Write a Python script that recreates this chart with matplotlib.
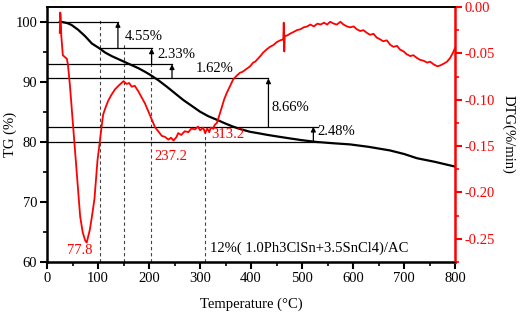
import matplotlib
matplotlib.use('Agg')
import matplotlib.pyplot as plt
from matplotlib.ticker import MultipleLocator

plt.rcParams['font.family'] = ['Liberation Serif', 'DejaVu Serif']
plt.rcParams['font.size'] = 10.5

# TG curve (mass %, left axis)
tg_temp = [25, 29, 40, 48, 61, 75, 88, 101, 114, 127, 140, 153, 166, 179, 192, 202, 218, 235,
           251, 267, 284, 300, 316, 333, 349, 365, 381, 398, 415, 431, 453, 476, 500, 529,
           560, 594, 630, 672, 700, 725, 760, 800]
tg_mass = [100.0, 100.0, 99.8, 99.5, 98.7, 97.6, 96.4, 95.7, 94.9, 94.3, 93.8, 93.3, 92.8,
           92.3, 91.7, 91.2, 90.3, 89.2, 88.1, 87.0, 86.0, 85.05, 84.3, 83.7, 83.1, 82.55,
           82.1, 81.7, 81.45, 81.2, 80.9, 80.6, 80.3, 80.0, 79.8, 79.6, 79.2, 78.6, 78.0,
           77.3, 76.7, 75.9]

# DTG curve (%/min, right axis)
dtg_temp = [25, 26, 27, 28, 31, 35, 39, 41, 45, 50, 55, 60, 65, 70, 75, 77.8, 84, 88, 93,
            99, 102, 105, 110, 115, 120, 126, 133, 140, 146, 150, 156, 161, 166, 172, 179, 186,
            192, 199, 205, 212, 218, 225, 231, 238, 243, 248, 254, 257, 263, 270, 277, 283, 290,
            296, 300, 306, 310, 314, 318, 321, 325, 329, 333, 341, 347, 352, 359, 365, 372, 378,
            383, 388, 393, 398, 404, 408, 413, 418, 424, 430, 437, 444, 450, 457, 463, 464,
            465, 466, 470, 476, 483, 490, 497, 503, 510, 516, 523, 530, 536, 543, 549, 555, 562,
            568, 575, 581, 588, 594, 601, 607, 614, 620, 627, 633, 640, 646, 653, 659, 666,
            673, 679, 686, 692, 699, 705, 712, 718, 725, 731, 738, 745, 751, 758, 765, 771,
            778, 784, 790, 795, 800]
dtg_rate = [-0.028, -0.006, -0.012, -0.031, -0.052, -0.054, -0.056, -0.062, -0.085, -0.120,
            -0.154, -0.190, -0.226, -0.243, -0.252, -0.254, -0.240, -0.226, -0.207,
            -0.165, -0.152, -0.138, -0.116, -0.108, -0.101, -0.095, -0.089, -0.085, -0.082,
            -0.080, -0.083, -0.082, -0.086, -0.085, -0.091, -0.098, -0.104, -0.113, -0.121,
            -0.130, -0.134, -0.139, -0.140, -0.143, -0.141, -0.144, -0.140, -0.136, -0.138,
            -0.134, -0.135, -0.131, -0.132, -0.129, -0.133, -0.130, -0.136, -0.131, -0.135,
            -0.130, -0.131, -0.127, -0.125, -0.111, -0.100, -0.093, -0.085, -0.078, -0.074,
            -0.071, -0.070, -0.068, -0.066, -0.064, -0.060, -0.059, -0.056, -0.053, -0.049,
            -0.046, -0.043, -0.041, -0.038, -0.036, -0.035, -0.017, -0.048, -0.031,
            -0.031, -0.029, -0.027, -0.025, -0.024, -0.022, -0.021, -0.019, -0.021, -0.018,
            -0.019, -0.017, -0.019, -0.016, -0.018, -0.019, -0.016, -0.019, -0.021, -0.022,
            -0.021, -0.024, -0.026, -0.025, -0.028, -0.030, -0.029, -0.033, -0.035, -0.037,
            -0.036, -0.041, -0.043, -0.042, -0.046, -0.048, -0.051, -0.053, -0.052, -0.055,
            -0.057, -0.058, -0.060, -0.059, -0.062, -0.064, -0.063, -0.061, -0.059, -0.055,
            -0.050, -0.044]

# step annotations: (x of arrow, lower level, upper level, label, label x, label y)
steps = [(139, 95.6, 100.0, '4.55%', 152, 97.6),
         (205, 92.95, 95.6, '2.33%', 216, 94.5),
         (245, 90.6, 92.95, '1.62%', 292, 92.2),
         (434, 82.55, 90.6, '8.66%', 440, 85.8),
         (522, 80.05, 82.55, '2.48%', 530, 81.7)]
# horizontal reference lines: (level, x start, x end)
hlines = [(100.0, 0, 139), (95.6, 104, 205), (92.95, 0, 245),
          (90.6, 0, 434), (82.55, 0, 531), (80.05, 0, 531)]
# dashed guide lines: (x, top level)
vguides = [(104, 100.6), (150, 96.6), (204, 95.0), (310, 82.1)]
# peak labels: (text, x, y on TG scale)
peaks = [('77.8', 65, 62.0), ('237.2', 242, 77.6), ('313.2', 355, 81.3)]

fig = plt.figure(figsize=(5.24, 3.15), dpi=100)
ax = fig.add_axes([0.0897, 0.168, 0.779, 0.81])
ax2 = ax.twinx()

for x, ytop in vguides:
    ax.plot([x, x], [60, ytop], color='#444444', lw=0.8, ls=(0, (3, 2.5)), zorder=1)
for y, x0, x1 in hlines:
    ax.plot([x0, x1], [y, y], color='black', lw=0.9, zorder=2)
for x, lo, hi, lab, tx, ty in steps:
    ax.annotate('', xy=(x, hi), xytext=(x, lo),
                arrowprops=dict(arrowstyle='-|>', color='black', lw=0.9,
                                mutation_scale=7, shrinkA=0, shrinkB=0))
    ax.text(tx, ty, lab, ha='left', va='center', fontsize=10.5)

ax.plot(tg_temp, tg_mass, color='black', lw=1.6, zorder=3)
ax2.plot(dtg_temp, dtg_rate, color='red', lw=1.3)

for lab, x, y in peaks:
    ax.text(x, y, lab, color='red', ha='center', va='center')
ax.text(320, 62.3, '12%( 1.0Ph3ClSn+3.5SnCl4)/AC', ha='left', va='center')

ax.set_xlim(0, 800)
ax.set_ylim(60, 102.5)
ax2.set_ylim(-0.275, 0.0)
ax.xaxis.set_major_locator(MultipleLocator(100))
ax.xaxis.set_minor_locator(MultipleLocator(50))
ax.yaxis.set_major_locator(MultipleLocator(10))
ax.yaxis.set_minor_locator(MultipleLocator(5))
ax2.yaxis.set_major_locator(MultipleLocator(0.05))
ax2.yaxis.set_minor_locator(MultipleLocator(0.025))
ax2.yaxis.set_major_formatter(plt.FuncFormatter(lambda v, p: f'{v:.2f}' if abs(v) > 1e-9 else '0.00'))

ax.tick_params(which='major', direction='out', length=5, width=1.5, pad=2)
ax.tick_params(which='minor', direction='out', length=3, width=1.2)
ax.tick_params(axis='y', which='both', right=False)
ax2.tick_params(which='major', direction='out', length=5, width=1.5, colors='red', pad=2)
ax2.tick_params(which='minor', direction='out', length=3, width=1.2, colors='red')

for s in ['left', 'bottom']:
    ax.spines[s].set_linewidth(1.8)
ax.spines['top'].set_linewidth(1.2)
ax2.spines['top'].set_linewidth(1.2)
ax2.spines['right'].set_color('red')
ax2.spines['right'].set_linewidth(1.8)
ax2.spines['left'].set_visible(False)
ax.spines['right'].set_visible(False)

ax.set_xlabel('Temperature (°C)', labelpad=9)
ax.set_ylabel('TG (%)', labelpad=-1)
ax2.set_ylabel('DTG(%/min)', rotation=270, labelpad=14)

fig.savefig('out.png', dpi=100)
